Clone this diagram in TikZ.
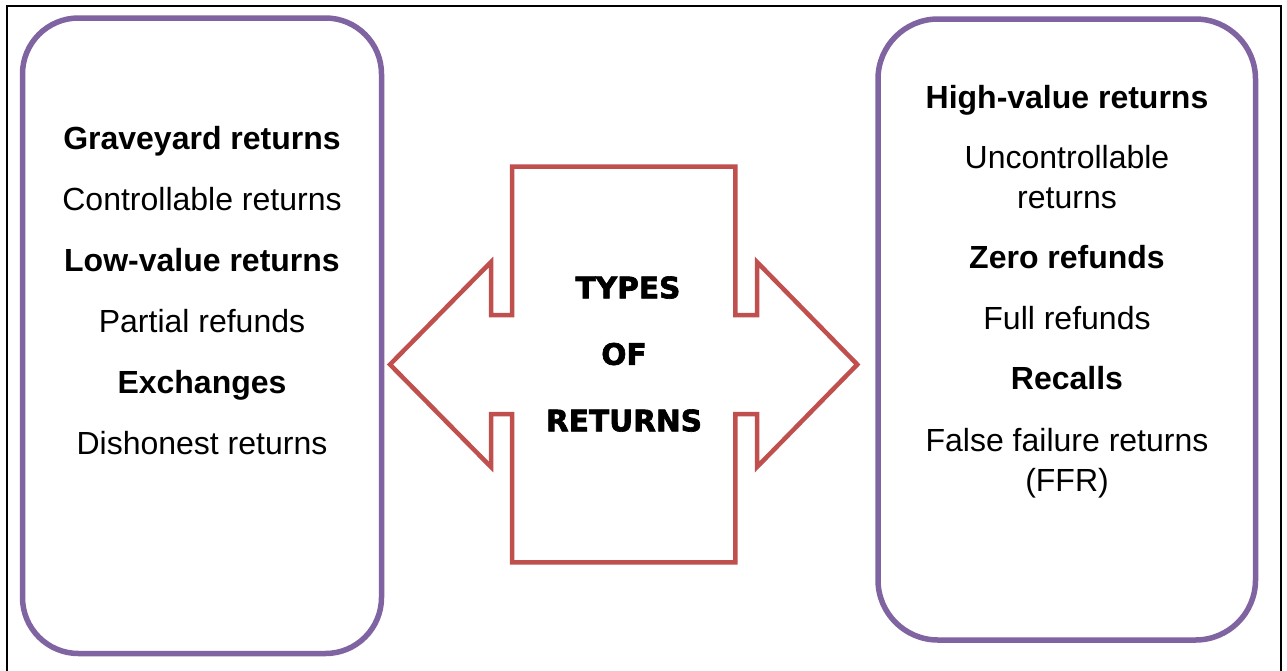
\documentclass[tikz,border=0pt]{standalone}
\usepackage{fontspec}
\setmainfont{Liberation Sans}
\newfontfamily\headfont[FakeBold=2.2]{DejaVu Sans}
\definecolor{boxpurple}{HTML}{8064A2}
\definecolor{arrowred}{HTML}{C0504D}
\tikzset{
  purplebox/.style={draw=boxpurple, line width=5.5pt, inner sep=0pt},
  item/.style={anchor=base, inner sep=0pt, font=\fontsize{32}{38}\selectfont},
  itembold/.style={item, font=\fontsize{32}{38}\selectfont\bfseries},
  headtext/.style={anchor=base, inner sep=0pt, font=\headfont\bfseries\fontsize{29.6}{34}\selectfont},
}
\begin{document}
\begin{tikzpicture}[x=1pt, y=-1pt]
  \useasboundingbox (0,0) rectangle (1287,670);
  \clip (0,0) rectangle (1287,670);
  \fill[white] (0,0) rectangle (1287,670);

  % outer frame (runs past the lower edge)
  \draw[line width=2.5pt] (7,6) rectangle (1281,720);

  % two rounded panels
  \node[purplebox, rounded corners=56pt, minimum width=359pt, minimum height=635.5pt]
    (leftbox) at (202,335.75) {};
  \node[purplebox, rounded corners=60pt, minimum width=377.5pt, minimum height=621pt]
    (rightbox) at (1066.75,329.5) {};

  % central double-headed cross arrow
  \draw[arrowred, line width=4.5pt, miter limit=10]
    (512,166.7) -- (735.3,166.7) -- (735.3,315) -- (757,315) -- (757,262)
    -- (857.3,364.5) -- (757,467) -- (757,414) -- (735.3,414) -- (735.3,562.3)
    -- (512,562.3) -- (512,414) -- (491,414) -- (491,467) -- (390,364.5)
    -- (491,262) -- (491,315) -- (512,315) -- cycle;

  \node[headtext] (types) at (628,298.3) {TYPES};
  \node[headtext] (of) at (624,364.8) {OF};
  \node[headtext] (returns) at (624,431.3) {RETURNS};

  % left list
  \node[itembold] (graveyard) at (202,149) {Graveyard returns};
  \node[item] (controllable) at (202,210) {Controllable returns};
  \node[itembold] (lowvalue) at (202,271) {Low-value returns};
  \node[item] (partial) at (202,332) {Partial refunds};
  \node[itembold] (exchanges) at (202,393) {Exchanges};
  \node[item] (dishonest) at (202,454) {Dishonest returns};

  % right list
  \node[itembold] (highvalue) at (1067,108) {High-value returns};
  \node[item] (uncontrollable) at (1067,168.5) {Uncontrollable};
  \node[item] (uncontrollable2) at (1067,208.5) {returns};
  \node[itembold] (zero) at (1067,268.5) {Zero refunds};
  \node[item] (full) at (1067,329.5) {Full refunds};
  \node[itembold] (recalls) at (1067,389.5) {Recalls};
  \node[item] (ffr) at (1067,451.5) {False failure returns};
  \node[item] (ffr2) at (1067,491.5) {(FFR)};
\end{tikzpicture}
\end{document}
